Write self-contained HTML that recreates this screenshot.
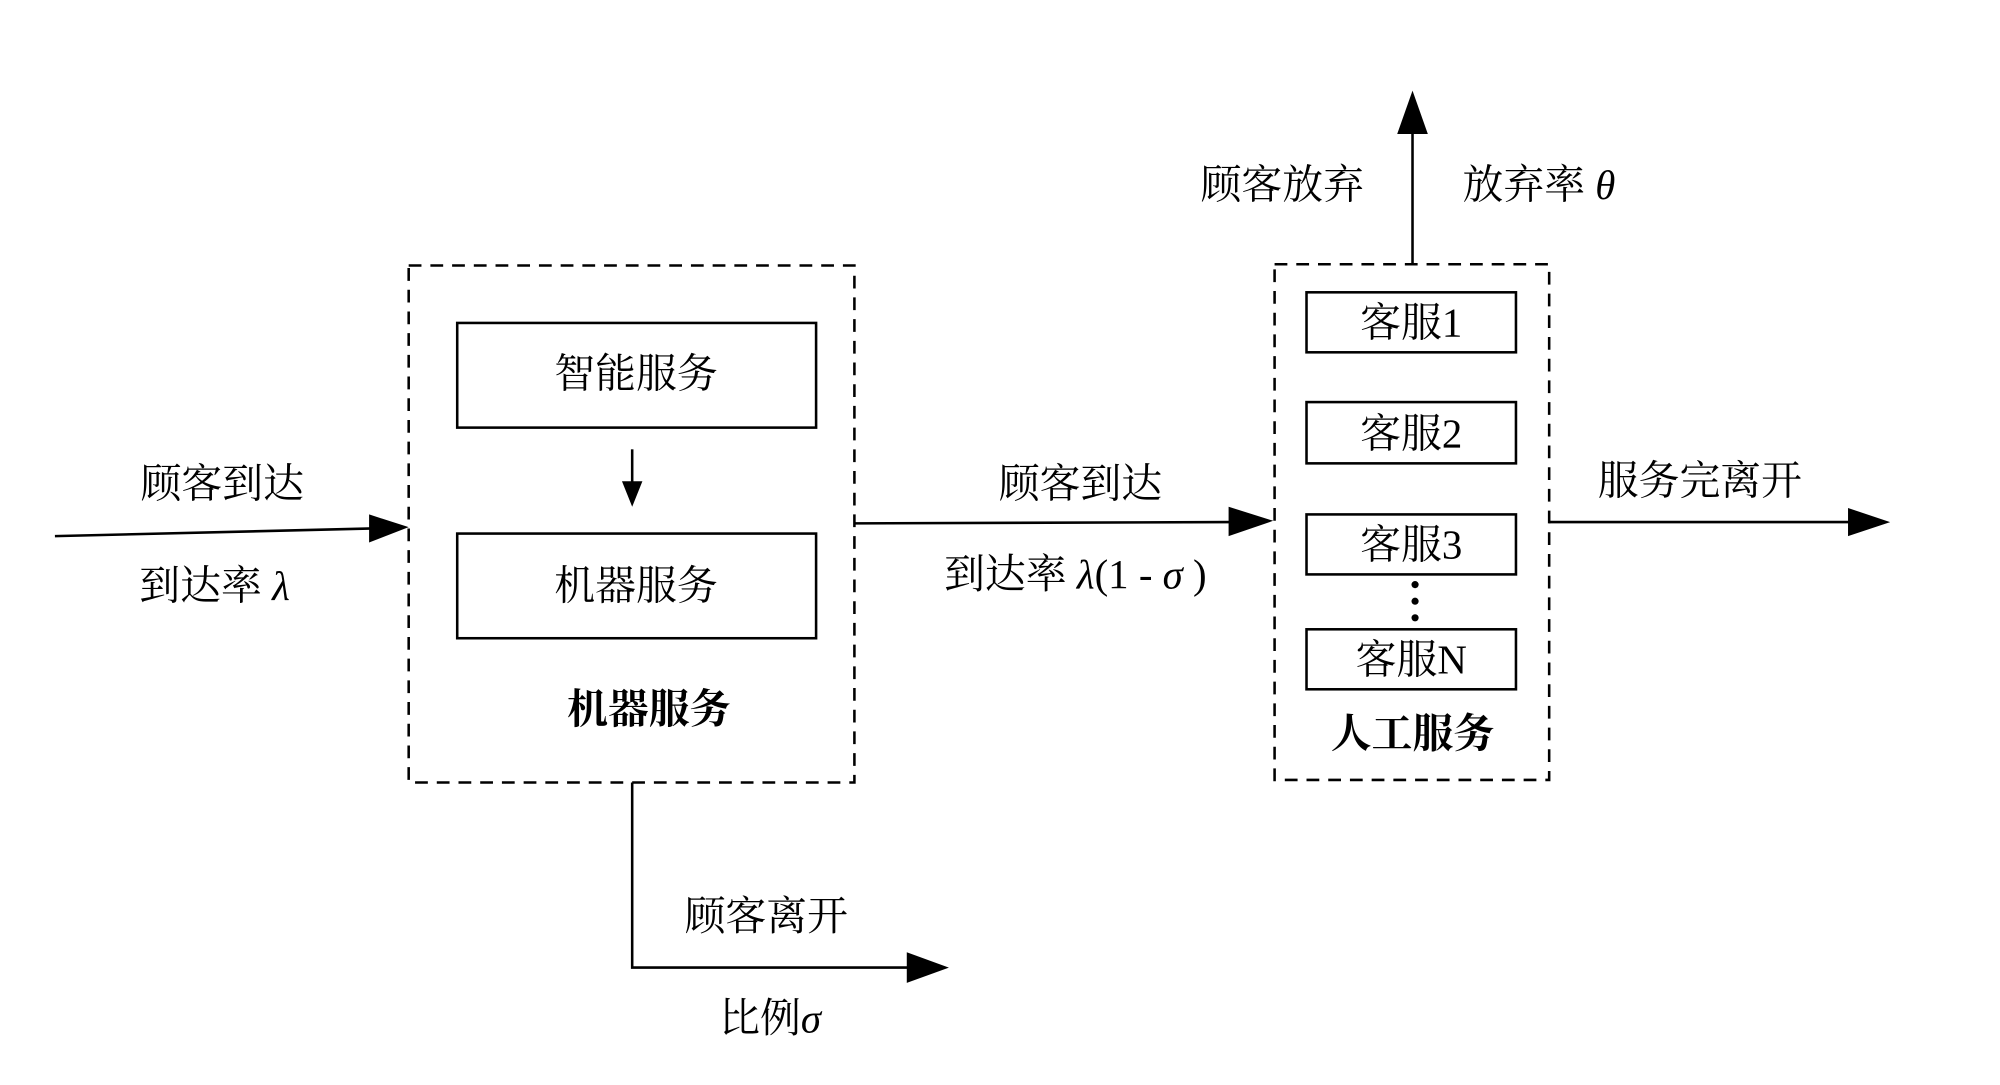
<!DOCTYPE html>
<html><head><meta charset="utf-8"><style>
html,body{margin:0;padding:0;background:#fff;}
svg{display:block;}
text{font-family:"Liberation Serif","Noto Serif CJK SC",serif;font-size:32px;fill:#000;text-anchor:middle;dominant-baseline:central;}
.b{font-weight:bold;}
</style></head><body>
<svg width="2000" height="1085" viewBox="0 0 1566 850" preserveAspectRatio="none">
<g fill="none" stroke="#000" stroke-width="2">
<rect x="320" y="208" width="349" height="405" stroke-dasharray="10,7"/>
<rect x="998" y="207" width="215" height="404" stroke-dasharray="10,7"/>
<rect x="358" y="253" width="281" height="82"/>
<rect x="358" y="418" width="281" height="82"/>
<rect x="1023" y="229" width="164" height="47"/>
<rect x="1023" y="315" width="164" height="48"/>
<rect x="1023" y="403" width="164" height="47"/>
<rect x="1023" y="493" width="164" height="47"/>
<line x1="495" y1="352" x2="495" y2="380"/>
<line x1="43" y1="420" x2="292" y2="414"/>
<line x1="669" y1="410" x2="964" y2="409"/>
<line x1="1106" y1="207" x2="1106" y2="102"/>
<line x1="1213" y1="409" x2="1449" y2="409"/>
<polyline points="495,613 495,758 712,758"/>
</g>
<g fill="#000">
<polygon points="487,377 503,377 495,397"/>
<polygon points="289,403 320,413 289,425"/>
<polygon points="962,397 997,408 962,420"/>
<polygon points="1094,105 1118,105 1106,71"/>
<polygon points="1447,398 1480,409 1447,420"/>
<polygon points="710,746 743,758 710,770"/>
<circle cx="1108" cy="458" r="2.8"/>
<circle cx="1108" cy="471" r="2.8"/>
<circle cx="1108" cy="484" r="2.8"/>
</g>
<text x="498" y="293">智能服务</text>
<text x="498" y="459">机器服务</text>
<text x="508" y="556" class="b">机器服务</text>
<text x="174" y="379">顾客到达</text>
<text x="168" y="459">到达率 <tspan font-style="italic">λ</tspan></text>
<text x="846" y="379">顾客到达</text>
<text x="842" y="450">到达率 <tspan font-style="italic">λ</tspan>(1 - <tspan font-style="italic">σ</tspan> )</text>
<text x="1105" y="253">客服1</text>
<text x="1105" y="340">客服2</text>
<text x="1105" y="427">客服3</text>
<text x="1105" y="517">客服N</text>
<text x="1106" y="575" class="b">人工服务</text>
<text x="1004" y="145">顾客放弃</text>
<text x="1205" y="145">放弃率 <tspan font-style="italic">θ</tspan></text>
<text x="1331" y="377">服务完离开</text>
<text x="600" y="718">顾客离开</text>
<text x="603" y="798">比例<tspan font-style="italic">σ</tspan></text>
</svg>
</body></html>
